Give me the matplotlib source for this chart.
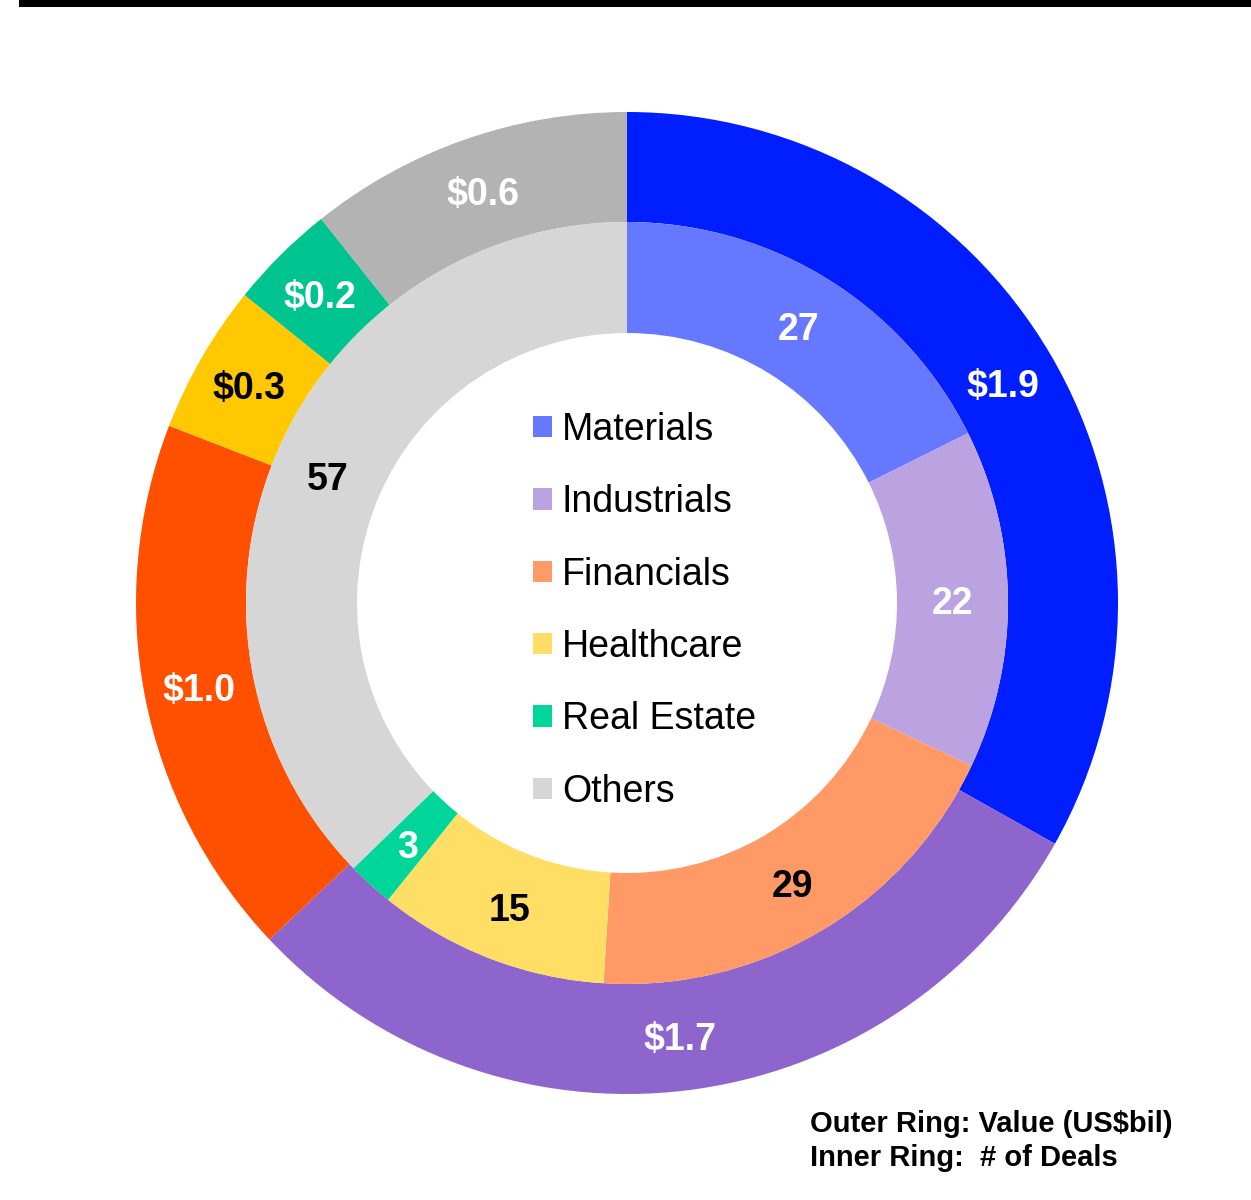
import numpy as np
import matplotlib
matplotlib.use("Agg")
import matplotlib.pyplot as plt
from matplotlib.patches import Patch, Rectangle

plt.rcParams['font.family'] = ['Liberation Sans', 'DejaVu Sans']

# Sectors (clockwise from 12 o'clock)
sectors = ["Materials", "Industrials", "Financials", "Healthcare", "Real Estate", "Others"]

# Outer ring: deal value (US$bil), labels shown rounded to 1 dp
deal_value = [1.89, 1.70, 1.02, 0.28, 0.20, 0.61]
outer_colors = ["#001EFF", "#8E65CC", "#FF5000", "#FFC800", "#00C490", "#B3B3B3"]
outer_text = ["white", "white", "white", "black", "white", "white"]

# Inner ring: number of deals
deal_count = [27, 22, 29, 15, 3, 57]
inner_colors = ["#6678FF", "#BBA2E0", "#FF9966", "#FFDE66", "#00D699", "#D6D6D6"]
inner_text = ["white", "white", "black", "black", "white", "black"]

fig = plt.figure(figsize=(12.51, 12.0), dpi=100)
ax = fig.add_axes([0, 0, 1, 1])
ax.set_aspect('equal')
ax.axis('off')

center = (627, 597)
r_out, w_out = 491, 110
r_in, w_in = 381, 111


def ring(values, colors, radius, width):
    wedges, _ = ax.pie(values, colors=colors, radius=radius, center=center,
                       startangle=90, counterclock=False,
                       wedgeprops=dict(width=width, linewidth=0))
    return wedges


def label_ring(wedges, texts, text_colors, radius):
    for w, t, c in zip(wedges, texts, text_colors):
        ang = np.deg2rad((w.theta1 + w.theta2) / 2)
        x = center[0] + radius * np.cos(ang)
        y = center[1] + radius * np.sin(ang)
        ax.text(x, y, t, color=c, fontsize=27, fontweight='bold',
                ha='center', va='center_baseline')


outer = ring(deal_value, outer_colors, r_out, w_out)
inner = ring(deal_count, inner_colors, r_in, w_in)
ax.set_xlim(0, 1251)
ax.set_ylim(0, 1200)

label_ring(outer, ["$%.1f" % v for v in deal_value], outer_text, r_out - w_out / 2)
label_ring(inner, [str(v) for v in deal_count], inner_text, r_in - w_in / 2)

# legend in the hole
handles = [Patch(facecolor=c, edgecolor='none') for c in inner_colors]
ax.legend(handles, sectors, loc='upper left', bbox_to_anchor=(533 / 1251, 1 - 412 / 1200),
          frameon=False, fontsize=27, handlelength=0.5, handleheight=0.5,
          handletextpad=0.27, labelspacing=0.97, borderpad=0, borderaxespad=0)

# ring description
ax.text(810, 1200 - 1124, "Outer Ring: Value (US$bil)", fontsize=21, fontweight='bold',
        ha='left', va='center')
ax.text(810, 1200 - 1158, "Inner Ring:  # of Deals", fontsize=21, fontweight='bold',
        ha='left', va='center')

# black rule at top
fig.add_artist(Rectangle((19 / 1251, 1 - 7 / 1200), 1, 7 / 1200,
                         transform=fig.transFigure, color='black', lw=0))

fig.savefig("out.png", dpi=100)
